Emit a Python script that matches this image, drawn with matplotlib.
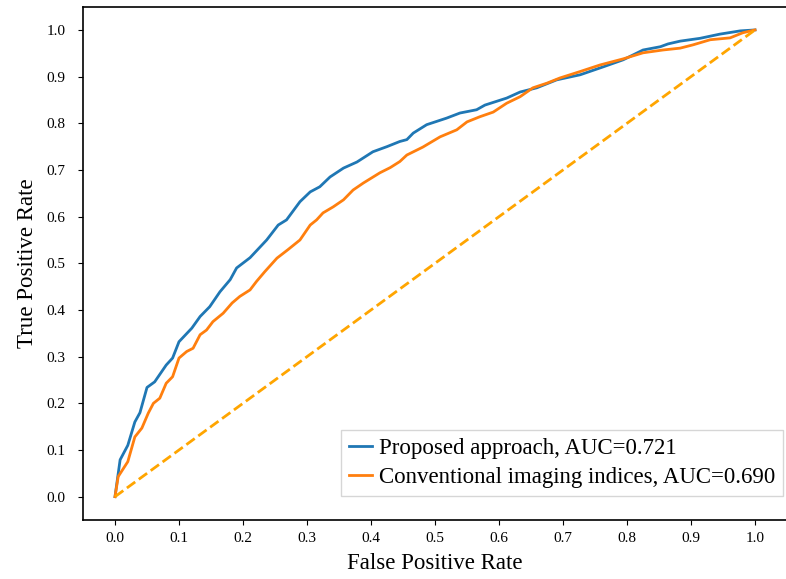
import matplotlib
matplotlib.use("Agg")
import matplotlib.pyplot as plt

plt.rcParams['font.family'] = ['Liberation Serif', 'DejaVu Serif']

# ROC curve of the proposed approach
fpr_proposed = [0.0, 0.008, 0.02, 0.031, 0.039, 0.05, 0.062, 0.08, 0.09, 0.10,
                0.12, 0.133, 0.148, 0.164, 0.18, 0.19, 0.211, 0.237, 0.255, 0.268,
                0.289, 0.305, 0.32, 0.336, 0.357, 0.378, 0.403, 0.425, 0.445, 0.456,
                0.466, 0.487, 0.518, 0.539, 0.565, 0.578, 0.612, 0.633, 0.659, 0.69,
                0.727, 0.763, 0.794, 0.825, 0.852, 0.864, 0.883, 0.914, 0.945, 0.977, 1.0]
tpr_proposed = [0.0, 0.079, 0.11, 0.16, 0.18, 0.234, 0.246, 0.282, 0.297, 0.332,
                0.361, 0.386, 0.407, 0.439, 0.465, 0.49, 0.512, 0.55, 0.582, 0.593,
                0.632, 0.653, 0.664, 0.685, 0.704, 0.717, 0.739, 0.75, 0.761, 0.765,
                0.779, 0.797, 0.811, 0.822, 0.829, 0.839, 0.854, 0.867, 0.876, 0.893,
                0.904, 0.921, 0.936, 0.957, 0.964, 0.97, 0.976, 0.982, 0.991, 0.998, 1.0]

# ROC curve of the conventional imaging indices
fpr_conv = [0.0, 0.005, 0.02, 0.031, 0.042, 0.052, 0.06, 0.07, 0.08, 0.09,
            0.10, 0.112, 0.122, 0.133, 0.143, 0.153, 0.169, 0.183, 0.195, 0.211,
            0.221, 0.234, 0.253, 0.27, 0.289, 0.305, 0.315, 0.325, 0.341, 0.357,
            0.372, 0.388, 0.414, 0.43, 0.445, 0.456, 0.481, 0.508, 0.534, 0.55,
            0.57, 0.591, 0.612, 0.633, 0.653, 0.675, 0.695, 0.727, 0.758, 0.794,
            0.825, 0.856, 0.883, 0.903, 0.93, 0.961, 0.981, 1.0]
tpr_conv = [0.0, 0.043, 0.075, 0.128, 0.147, 0.179, 0.20, 0.211, 0.243, 0.257,
            0.297, 0.311, 0.318, 0.347, 0.357, 0.375, 0.393, 0.415, 0.429, 0.443,
            0.461, 0.482, 0.511, 0.529, 0.55, 0.582, 0.593, 0.608, 0.621, 0.636,
            0.657, 0.672, 0.694, 0.705, 0.718, 0.732, 0.749, 0.771, 0.786, 0.803,
            0.814, 0.824, 0.843, 0.857, 0.876, 0.886, 0.897, 0.911, 0.925, 0.938,
            0.951, 0.957, 0.961, 0.968, 0.979, 0.983, 0.994, 1.0]

auc_proposed = 0.721
auc_conv = 0.690

fig = plt.figure(figsize=(7.86, 5.79), dpi=100)
ax = fig.add_axes([0.1056, 0.1019, 0.8957, 0.8867])

ax.plot(fpr_proposed, tpr_proposed, color='#1f77b4', lw=2,
        label='Proposed approach, AUC=%.3f' % auc_proposed)
ax.plot(fpr_conv, tpr_conv, color='#ff7f0e', lw=2,
        label='Conventional imaging indices, AUC=%.3f' % auc_conv)
ax.plot([0, 1], [0, 1], color='#ffa500', lw=2, linestyle='--')

ax.set_xlim(-0.05, 1.05)
ax.set_ylim(-0.05, 1.05)
ticks = [i / 10 for i in range(11)]
ax.set_xticks(ticks)
ax.set_yticks(ticks)
ax.set_xticklabels(['%.1f' % t for t in ticks], fontsize=11)
ax.set_yticklabels(['%.1f' % t for t in ticks], fontsize=11)
ax.tick_params(axis='x', pad=5)
ax.tick_params(axis='y', pad=9)
ax.spines['right'].set_visible(False)
for s in ['left', 'bottom', 'top']:
    ax.spines[s].set_linewidth(1.2)

ax.set_xlabel('False Positive Rate', fontsize=16.5, labelpad=6)
ax.set_ylabel('True Positive Rate', fontsize=16.5, labelpad=6)

ax.legend(loc='lower right', bbox_to_anchor=(0.994, 0.047), fontsize=16.5,
          handlelength=1.0, handletextpad=0.3, borderpad=0.35, labelspacing=0.35,
          borderaxespad=0, fancybox=False)

fig.savefig('out.png', dpi=100)
